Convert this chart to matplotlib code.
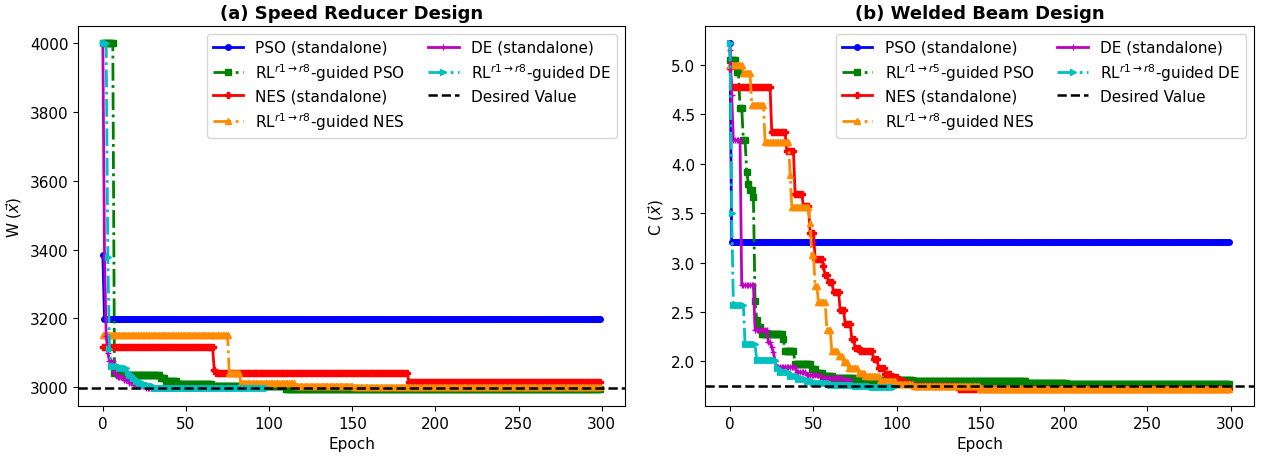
import numpy as np
import matplotlib
matplotlib.use("Agg")
import matplotlib.pyplot as plt

# best-so-far values, stored as (epoch where value starts, value)
# each curve holds its value until the next listed epoch

# (a) speed reducer
spd_pso = [(0, 3385), (1, 3199)]
spd_rlpso = [(0, 4000), (7, 3041), (10, 3035), (35, 3026), (38, 3018), (45, 3008), (66, 3003), (110, 2995)]
spd_nes = [(0, 3116), (67, 3050), (68, 3042), (184, 3016)]
spd_rlnes = [(0, 3151), (76, 3041), (83, 3012), (116, 3004), (151, 2999)]
spd_de = [(0, 4000), (1, 3380), (2, 3150), (3, 3100), (4, 3075), (7, 3040), (9, 3028), (13, 3020),
          (16, 3012), (19, 3006), (22, 3002), (26, 2998)]
spd_rlde = [(0, 4000), (3, 3380), (4, 3110), (5, 3060), (10, 3055), (15, 3045), (16, 3035), (18, 3026),
            (20, 3018), (22, 3012), (25, 3006), (28, 3002), (31, 2997)]
spd_lengths = [300, 300, 300, 300, 60, 100]
spd_desired = 2996

# (b) welded beam
wb_pso = [(0, 5.22), (1, 3.21)]
wb_rlpso = [(0, 5.05), (4, 4.93), (6, 4.57), (8, 4.24), (10, 3.92), (11, 3.80), (12, 3.73), (14, 3.66),
            (15, 2.61), (16, 2.42), (17, 2.35), (19, 2.28), (32, 2.22), (33, 2.10), (39, 1.97), (49, 1.92),
            (52, 1.88), (56, 1.85), (62, 1.83), (75, 1.81), (110, 1.80), (178, 1.78), (202, 1.77)]
wb_nes = [(0, 4.97), (1, 4.78), (25, 4.32), (34, 4.13), (39, 3.69), (44, 3.57), (48, 3.30), (51, 3.04),
          (56, 2.96), (57, 2.87), (59, 2.80), (62, 2.70), (66, 2.52), (69, 2.38), (73, 2.22), (75, 2.13),
          (78, 2.10), (86, 2.02), (89, 1.93), (93, 1.87), (97, 1.84), (101, 1.80), (105, 1.77),
          (110, 1.745), (137, 1.72)]
wb_rlnes = [(0, 5.00), (8, 4.92), (13, 4.60), (21, 4.22), (36, 3.89), (37, 3.56), (48, 3.40), (49, 3.08),
            (51, 2.76), (53, 2.60), (58, 2.32), (61, 2.10), (65, 2.05), (68, 1.99), (71, 1.93), (77, 1.88),
            (81, 1.85), (90, 1.80), (100, 1.77), (110, 1.745), (150, 1.72)]
wb_de = [(0, 5.15), (1, 4.70), (2, 4.24), (7, 2.77), (15, 2.32), (23, 2.19), (25, 2.14), (26, 2.09),
         (27, 2.00), (28, 1.94), (40, 1.89), (46, 1.86), (55, 1.83), (68, 1.81)]
wb_rlde = [(0, 5.22), (1, 3.50), (2, 2.57), (9, 2.17), (16, 2.01), (28, 1.93), (30, 1.89), (36, 1.85),
           (41, 1.82), (46, 1.80), (50, 1.78), (60, 1.76), (75, 1.745), (85, 1.735)]
wb_lengths = [300, 300, 300, 300, 73, 99]
wb_desired = 1.748

labels_a = ["PSO (standalone)", r"RL$^{r1\rightarrow r8}$-guided PSO",
            "NES (standalone)", r"RL$^{r1\rightarrow r8}$-guided NES",
            "DE (standalone)", r"RL$^{r1\rightarrow r8}$-guided DE"]
labels_b = ["PSO (standalone)", r"RL$^{r1\rightarrow r5}$-guided PSO",
            "NES (standalone)", r"RL$^{r1\rightarrow r8}$-guided NES",
            "DE (standalone)", r"RL$^{r1\rightarrow r8}$-guided DE"]

colors = ["blue", "green", "red", "darkorange", "m", "c"]
styles = ["-", "-.", "-", "-.", "-", "-."]
markers = ["o", "s", "P", "^", "+", ">"]


def hold(points, n):
    # expand change points into one value per epoch
    vals = np.empty(n)
    for i, (start, v) in enumerate(points):
        end = points[i + 1][0] if i + 1 < len(points) else n
        vals[start:end] = v
    return vals


plt.rcParams["font.size"] = 11
fig = plt.figure(figsize=(12.72, 4.6), dpi=100)
ax1 = fig.add_axes([0.0613, 0.115, 0.4300, 0.826])
ax2 = fig.add_axes([0.5543, 0.115, 0.4316, 0.826])


def draw(ax, series, lengths, labels, desired, title, ylabel):
    for pts, n, lab, c, ls, mk in zip(series, lengths, labels, colors, styles, markers):
        ax.plot(np.arange(n), hold(pts, n), color=c, linestyle=ls, marker=mk,
                markersize=4, linewidth=2, label=lab)
    ax.axhline(desired, color="black", linestyle="--", linewidth=1.8, label="Desired Value")
    ax.set_title(title, fontweight="bold", fontsize=13)
    ax.set_xlabel("Epoch")
    ax.set_ylabel(ylabel)
    ax.legend(loc="upper right", ncol=2, labelspacing=0.4, columnspacing=1.5)


draw(ax1, [spd_pso, spd_rlpso, spd_nes, spd_rlnes, spd_de, spd_rlde], spd_lengths, labels_a,
     spd_desired, "(a) Speed Reducer Design", r"W ($\vec{x}$)")
draw(ax2, [wb_pso, wb_rlpso, wb_nes, wb_rlnes, wb_de, wb_rlde], wb_lengths, labels_b,
     wb_desired, "(b) Welded Beam Design", r"C ($\vec{x}$)")

plt.savefig("out.png", dpi=100)
